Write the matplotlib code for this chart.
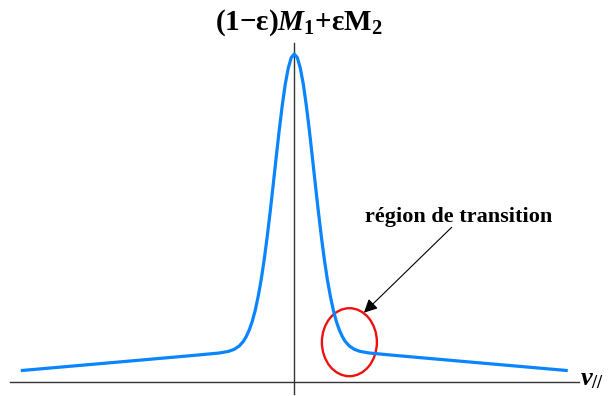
import matplotlib
matplotlib.use("Agg")
import matplotlib.pyplot as plt
from matplotlib.patches import Ellipse

plt.rcParams['mathtext.fontset'] = 'custom'
plt.rcParams['mathtext.rm'] = 'Liberation Serif:bold'
plt.rcParams['mathtext.bf'] = 'Liberation Serif:bold'
plt.rcParams['mathtext.it'] = 'Liberation Serif:italic:bold'
plt.rcParams['font.family'] = ['Liberation Serif', 'DejaVu Serif']

# Curve samples (right half; the curve is symmetric)
v_half = [0.0, 0.11, 0.22, 0.33, 0.44, 0.55, 0.66, 0.77, 0.88, 0.99, 1.10,
          1.21, 1.32, 1.43, 1.54, 1.65, 1.76, 1.86, 2.01, 2.19, 2.41, 2.74,
          3.66, 5.48, 7.31, 10.0]
f_half = [1.000, 0.989, 0.957, 0.908, 0.843, 0.768, 0.686, 0.602, 0.520,
          0.443, 0.373, 0.312, 0.261, 0.218, 0.184, 0.158, 0.138, 0.124,
          0.110, 0.0997, 0.0932, 0.0884, 0.0812, 0.0678, 0.0544, 0.0348]

v = [-x for x in v_half[::-1]] + v_half[1:]
f = f_half[::-1] + f_half[1:]

title_text = r'$\mathrm{(1{-}\epsilon)}\mathit{M}_{\mathrm{1}}\mathrm{{+}\epsilon M_{2}}$'
annot_text = 'région de transition'
xlabel_text = r'$\mathit{v}_{\mathrm{//}}$'

fig = plt.figure(figsize=(6.14, 3.96), dpi=100)
ax = fig.add_axes([0, 0, 1, 1])
ax.set_xlim(-10.76, 11.69)
ax.set_ylim(-0.0427, 1.1646)
ax.axis('off')

# axes lines
ax.plot([-10.39, 10.40], [0, 0], color='#333333', lw=1.0)
ax.plot([0, 0], [-0.0366, 1.0335], color='#333333', lw=1.0)

ax.plot(v, f, color='#0a84ff', lw=2.3, solid_capstyle='butt')

ax.add_patch(Ellipse((2.015, 0.1213), 2.011, 0.2073, fill=False,
                     edgecolor='#ee1111', lw=1.7))

ax.annotate('', xy=(2.548, 0.2113), xytext=(5.755, 0.4716),
            arrowprops=dict(arrowstyle='-|>', color='black', lw=0.8,
                            mutation_scale=20, shrinkA=0, shrinkB=0))
ax.text(5.997, 0.504, annot_text, ha='center', va='center', fontsize=16,
        fontweight='bold', family=['Liberation Serif', 'DejaVu Serif'])

fig.text(299 / 614, 1 - 30 / 396, title_text, ha='center', va='baseline',
         fontsize=21)
fig.text(580 / 614, 1 - 385 / 396, xlabel_text, ha='left', va='baseline',
         fontsize=19)

fig.savefig('out.png', dpi=100)
